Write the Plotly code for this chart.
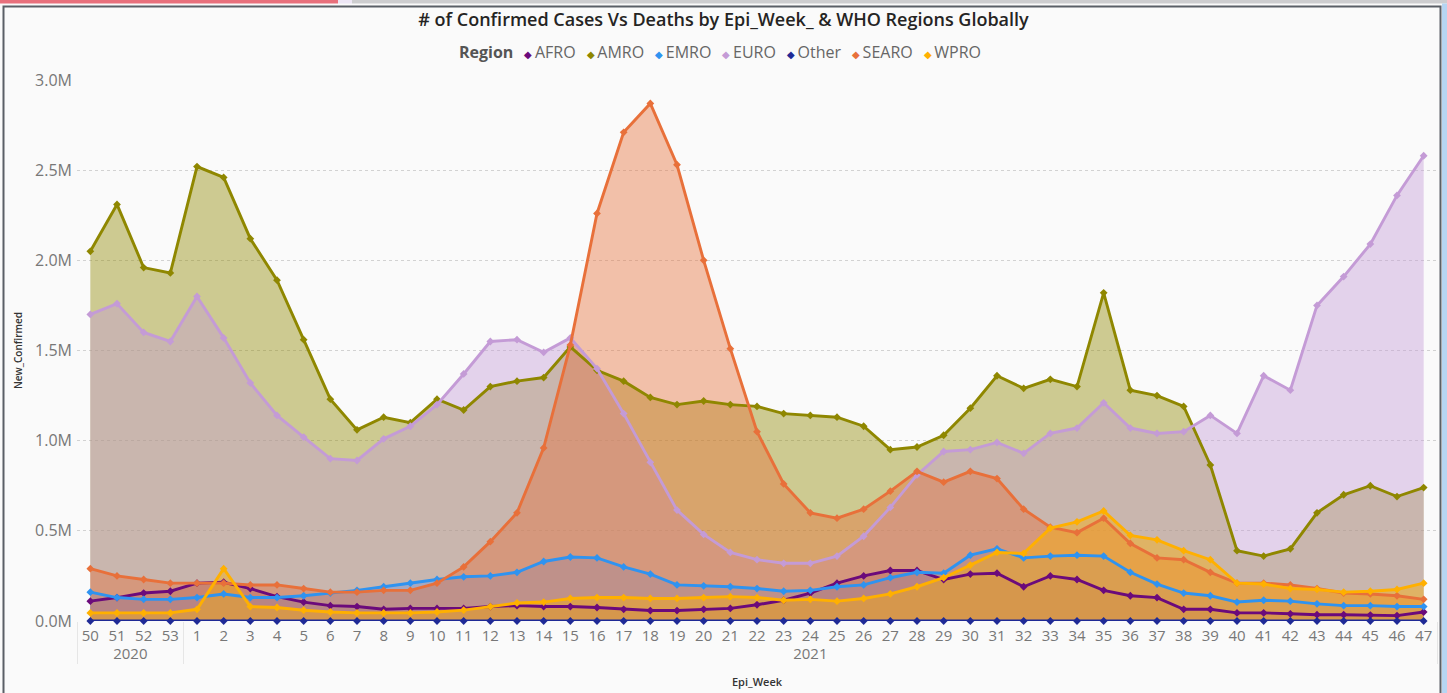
import plotly.graph_objects as go

# ---------------- data ----------------
years = ["2020"] * 4 + ["2021"] * 47
weeks = ["50", "51", "52", "53"] + [str(w) for w in range(1, 48)]

regions = ["AFRO", "AMRO", "EMRO", "EURO", "Other", "SEARO", "WPRO"]

afro = [0.11, 0.13, 0.155, 0.165, 0.21, 0.215, 0.18, 0.135, 0.105, 0.085,
        0.08, 0.065, 0.07, 0.07, 0.07, 0.08, 0.085, 0.08, 0.08, 0.075,
        0.065, 0.058, 0.058, 0.065, 0.07, 0.09, 0.115, 0.155, 0.21, 0.25,
        0.28, 0.28, 0.23, 0.26, 0.265, 0.19, 0.25, 0.23, 0.17, 0.14,
        0.13, 0.065, 0.065, 0.045, 0.045, 0.04, 0.035, 0.035, 0.033, 0.03, 0.05]

amro = [2.05, 2.31, 1.96, 1.93, 2.52, 2.46, 2.12, 1.89, 1.56, 1.23,
        1.06, 1.13, 1.10, 1.23, 1.17, 1.30, 1.33, 1.35, 1.52, 1.39,
        1.33, 1.24, 1.20, 1.22, 1.20, 1.19, 1.15, 1.14, 1.13, 1.08,
        0.95, 0.965, 1.03, 1.18, 1.36, 1.29, 1.34, 1.30, 1.82, 1.28,
        1.25, 1.19, 0.865, 0.39, 0.36, 0.40, 0.60, 0.70, 0.75, 0.69, 0.74]

emro = [0.16, 0.13, 0.12, 0.12, 0.13, 0.15, 0.13, 0.13, 0.14, 0.155,
        0.17, 0.19, 0.21, 0.23, 0.245, 0.25, 0.27, 0.33, 0.355, 0.35,
        0.30, 0.26, 0.20, 0.195, 0.19, 0.18, 0.165, 0.17, 0.19, 0.20,
        0.24, 0.27, 0.265, 0.365, 0.40, 0.35, 0.36, 0.365, 0.36, 0.27,
        0.205, 0.155, 0.14, 0.105, 0.115, 0.11, 0.095, 0.085, 0.085, 0.08, 0.08]

euro = [1.70, 1.76, 1.60, 1.55, 1.80, 1.57, 1.32, 1.14, 1.02, 0.90,
        0.89, 1.01, 1.08, 1.20, 1.37, 1.55, 1.56, 1.49, 1.57, 1.40,
        1.15, 0.88, 0.615, 0.48, 0.38, 0.34, 0.32, 0.32, 0.36, 0.47,
        0.63, 0.81, 0.94, 0.95, 0.99, 0.93, 1.04, 1.07, 1.21, 1.07,
        1.04, 1.05, 1.14, 1.04, 1.36, 1.28, 1.75, 1.91, 2.09, 2.36, 2.58]

other = [0.0] * 51

searo = [0.29, 0.25, 0.23, 0.21, 0.21, 0.21, 0.20, 0.20, 0.18, 0.16,
         0.16, 0.17, 0.17, 0.21, 0.30, 0.44, 0.60, 0.96, 1.53, 2.26,
         2.71, 2.87, 2.53, 2.00, 1.51, 1.05, 0.76, 0.60, 0.57, 0.62,
         0.72, 0.83, 0.77, 0.83, 0.79, 0.62, 0.52, 0.49, 0.57, 0.43,
         0.35, 0.34, 0.27, 0.21, 0.21, 0.20, 0.18, 0.155, 0.15, 0.14, 0.12]

wpro = [0.045, 0.045, 0.045, 0.045, 0.065, 0.29, 0.08, 0.075, 0.06, 0.05,
        0.045, 0.045, 0.045, 0.05, 0.06, 0.08, 0.10, 0.105, 0.125, 0.13,
        0.13, 0.125, 0.125, 0.13, 0.135, 0.13, 0.115, 0.12, 0.11, 0.125,
        0.15, 0.19, 0.24, 0.31, 0.38, 0.375, 0.515, 0.55, 0.61, 0.475,
        0.45, 0.39, 0.34, 0.21, 0.205, 0.18, 0.175, 0.16, 0.165, 0.175, 0.21]

series = [afro, amro, emro, euro, other, searo, wpro]

y_tick_vals = [0, 0.5e6, 1.0e6, 1.5e6, 2.0e6, 2.5e6, 3.0e6]
y_tick_text = ["0.0M", "0.5M", "1.0M", "1.5M", "2.0M", "2.5M", "3.0M"]

# ---------------- styles ----------------
line_colors = ["#6B0A7B", "#8F8700", "#2F93F0", "#C49BD6", "#1F2A96", "#E8703A", "#FFB000"]
fill_alpha = 0.42


def rgba(hex_color, a):
    h = hex_color.lstrip("#")
    r, g, b = int(h[0:2], 16), int(h[2:4], 16), int(h[4:6], 16)
    return f"rgba({r},{g},{b},{a})"


x = [years, weeks]
fig = go.Figure()

# areas first
for name, vals, col in zip(regions, series, line_colors):
    fig.add_trace(go.Scatter(
        x=x, y=[v * 1e6 for v in vals], name=name, mode="lines",
        line=dict(width=0, color=col), fill="tozeroy",
        fillcolor=rgba(col, fill_alpha), showlegend=False, hoverinfo="skip"))

# lines + markers on top
for name, vals, col in zip(regions, series, line_colors):
    fig.add_trace(go.Scatter(
        x=x, y=[v * 1e6 for v in vals], name=name, mode="lines+markers",
        line=dict(width=2.9, color=col),
        marker=dict(symbol="diamond", size=6, color=col),
        showlegend=False, cliponaxis=False))

W, H = 1447, 693
L, R, T, B = 77, 10, 80, 72
pw, ph = W - L - R, H - T - B


def px(xp):
    return (xp - L) / pw


def py(yp):
    return (H - B - yp) / ph


shapes = [
    # top strips
    dict(type="rect", xref="paper", yref="paper", x0=px(0), x1=px(338), y0=py(3.5), y1=py(0),
         fillcolor="#E8707C", line=dict(width=0), layer="below"),
    dict(type="rect", xref="paper", yref="paper", x0=px(338), x1=px(352), y0=py(3.5), y1=py(0),
         fillcolor="#EDE6F5", line=dict(width=0), layer="below"),
    dict(type="rect", xref="paper", yref="paper", x0=px(352), x1=px(W), y0=py(3.5), y1=py(0),
         fillcolor="#CDCDCF", line=dict(width=0), layer="below"),
    # right blue strip
    dict(type="rect", xref="paper", yref="paper", x0=px(1442), x1=px(W), y0=py(H), y1=py(3.5),
         fillcolor="#B6D5F2", line=dict(width=0), layer="below"),
    # frame
    dict(type="rect", xref="paper", yref="paper", x0=px(3.5), x1=px(1440.5), y0=py(H + 5), y1=py(6.5),
         fillcolor="rgba(0,0,0,0)", line=dict(width=2, color="#5A5F66"), layer="below"),
]

# compact Power BI style legend as a single text line
items = []
for name, col in zip(regions, line_colors):
    items.append(
        f"<span style='color:{col};font-size:10px'>◆</span>\u2009"
        f"<span style='color:#666666'>{name}</span>")
gap = "\u2009\u00a0\u00a0"
legend_text = "<b>Region</b>" + gap + gap.join(items)

fig.update_layout(
    width=W, height=H,
    margin=dict(l=L, r=R, t=T, b=B, autoexpand=False),
    paper_bgcolor="#FAFAFA", plot_bgcolor="#FAFAFA",
    font=dict(family="Open Sans, sans-serif", color="#666666"),
    title=dict(text="# of Confirmed Cases Vs Deaths by Epi_Week_ & WHO Regions Globally",
               xref="container", x=0.5, xanchor="center",
               yref="container", y=1 - 20 / H, yanchor="middle",
               font=dict(family="Open Sans, sans-serif", size=18, color="#252423", weight=600)),
    annotations=[dict(
        text=legend_text, xref="paper", yref="paper",
        x=px(720), y=py(52), xanchor="center", yanchor="middle", showarrow=False,
        font=dict(size=16, color="#555555"))],
    shapes=shapes,
    showlegend=False,
)

fig.update_yaxes(
    range=[0, 3.0e6], tickvals=y_tick_vals, ticktext=y_tick_text,
    showgrid=True, gridcolor="#D2D2D2", griddash="dot", gridwidth=1,
    zeroline=False, showline=False, automargin=False, ticklabelstandoff=4,
    tickfont=dict(size=16, color="#777777"),
    title=dict(text="New_Confirmed", font=dict(size=10, color="#333333", weight=600), standoff=10),
)

fig.update_xaxes(
    type="multicategory", range=[-0.5, len(weeks) - 0.5],
    showgrid=False, showline=False, zeroline=False,
    tickangle=0, automargin=False, ticklabelstandoff=4,
    tickfont=dict(size=15, color="#777777"),
    showdividers=True, dividercolor="#E6E6E6", dividerwidth=1,
    title=dict(text="Epi_Week", font=dict(size=11, color="#333333", weight=600), standoff=16),
)

fig.write_html("out.html")
